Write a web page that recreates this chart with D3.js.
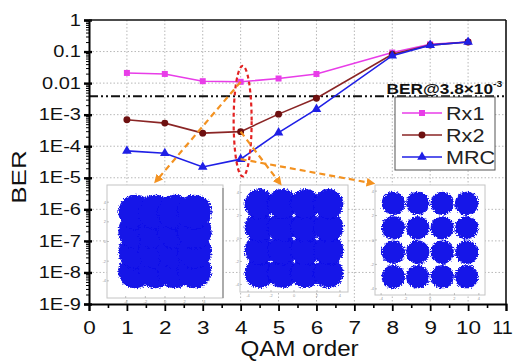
<!doctype html>
<html lang="en">
<head>
<meta charset="utf-8">
<title>BER vs QAM order</title>
<script src="https://d3js.org/d3.v7.min.js"></script>
<style>
  body { margin: 0; background: #fff; }
  svg text { font-family: 'Liberation Sans', Arial, sans-serif; }
  .grid line { stroke: #b8b8b8; stroke-dasharray: 1.5,2; }
</style>
</head>
<body>
<div id="chart"></div>
<script>
// values
const qamOrder = [1, 2, 3, 4, 5, 6, 8, 9, 10]
const berRx1 = [0.021, 0.0195, 0.0115, 0.011, 0.014, 0.0195, 0.093, 0.17, 0.2]
const berRx2 = [6.9e-4, 5.4e-4, 2.6e-4, 2.9e-4, 1.04e-3, 3.3e-3, 0.082, 0.16, 0.2]
const berMRC = [7.1e-5, 6.0e-5, 2.2e-5, 3.9e-5, 2.7e-4, 1.5e-3, 0.074, 0.16, 0.2]
const seriesNames = ['Rx1', 'Rx2', 'MRC']
const berThreshold = 3.8e-3

const xTickValues = [0, 1, 2, 3, 4, 5, 6, 7, 8, 9, 10, 11]
const yTickValues = [1e-9, 1e-8, 1e-7, 1e-6, 1e-5, 1e-4, 1e-3, 0.01, 0.1, 1]
const yTickLabels = ['1E-9', '1E-8', '1E-7', '1E-6', '1E-5', '1E-4', '1E-3', '0.01', '0.1', '1']

// constellation insets (16-QAM points, noise spread per inset)
const constellationLevels = [-3, -1, 1, 3]
const clusterSpread = [1.75, 1.3, 0.95]
const zoomOrder = 4

let width = 513
let height = 363
let margin = {top: 20, right: 7, bottom: 59, left: 89}

let colors = {Rx1: '#e83de8', Rx2: '#8a2525', MRC: '#1f1fe6'}
let markerFill = {Rx1: '#e83de8', Rx2: '#6e1010', MRC: '#1f1fe6'}
let orange = '#f39221'
let textStretch = 1.25

let svg = d3.select('#chart').append('svg')
  .attr('width', width)
  .attr('height', height)

let defs = svg.append('defs')
let fuzz = defs.append('filter').attr('id', 'fuzz')
  .attr('x', '-10%').attr('y', '-10%').attr('width', '120%').attr('height', '120%')
fuzz.append('feTurbulence').attr('type', 'fractalNoise').attr('baseFrequency', 0.7)
  .attr('numOctaves', 2).attr('seed', 3).attr('result', 'noise')
fuzz.append('feDisplacementMap').attr('in', 'SourceGraphic').attr('in2', 'noise')
  .attr('scale', 5).attr('xChannelSelector', 'R').attr('yChannelSelector', 'G')

defs.append('marker').attr('id', 'arrow')
  .attr('viewBox', '0 0 10 10').attr('refX', 5).attr('refY', 5)
  .attr('markerWidth', 4).attr('markerHeight', 4)
  .attr('orient', 'auto')
  .append('path').attr('d', 'M0,0 L10,5 L0,10 z').attr('fill', orange)

let x = d3.scaleLinear().domain([0, 11]).range([margin.left, width - margin.right])
let y = d3.scaleLog().domain([1e-9, 1]).range([height - margin.bottom, margin.top])

// grid
let grid = svg.append('g').attr('class', 'grid')
grid.selectAll('.gx').data(xTickValues.slice(1, -1)).enter().append('line')
  .attr('x1', d => x(d)).attr('x2', d => x(d))
  .attr('y1', y(1)).attr('y2', y(1e-9))
grid.selectAll('.gy').data(yTickValues.slice(1, -1)).enter().append('line')
  .attr('x1', x(0)).attr('x2', x(11))
  .attr('y1', d => y(d)).attr('y2', d => y(d))

// constellation insets
let insets = [
  {x: 107, y: 185, w: 116, h: 113, half: 5.9},
  {x: 240, y: 185, w: 108, h: 107, half: 4.7},
  {x: 375, y: 185, w: 110, h: 110, half: 4.5},
]
let points = []
constellationLevels.forEach(i => constellationLevels.forEach(q => points.push([i, q])))

insets.forEach((b, k) => {
  let g = svg.append('g')
  let px = (b.w / 2) / b.half
  let sx = d3.scaleLinear().domain([-b.half, b.half]).range([b.x, b.x + b.w])
  let sy = d3.scaleLinear().domain([-b.half * b.h / b.w, b.half * b.h / b.w]).range([b.y + b.h, b.y])
  g.append('rect').attr('x', b.x).attr('y', b.y).attr('width', b.w).attr('height', b.h)
    .attr('fill', '#fff').attr('stroke', '#c4c4c4').attr('stroke-width', 1)
  let inner = [-4, -2, 0, 2, 4]
  g.selectAll('.tx').data(inner).enter().append('line')
    .attr('x1', d => sx(d)).attr('x2', d => sx(d))
    .attr('y1', b.y + b.h).attr('y2', b.y + b.h - 2)
    .attr('stroke', '#999').attr('stroke-width', 0.6)
  g.selectAll('.ty').data(inner).enter().append('line')
    .attr('x1', b.x).attr('x2', b.x + 2)
    .attr('y1', d => sy(d)).attr('y2', d => sy(d))
    .attr('stroke', '#999').attr('stroke-width', 0.6)
  g.selectAll('.tl').data(inner).enter().append('text')
    .attr('x', d => sx(d)).attr('y', b.y + b.h + 5)
    .attr('text-anchor', 'middle').attr('font-size', 4).attr('fill', '#999')
    .text(d => d)
  g.selectAll('.tyl').data(inner).enter().append('text')
    .attr('x', b.x - 1).attr('y', d => sy(d) + 1.5)
    .attr('text-anchor', 'end').attr('font-size', 4).attr('fill', '#999')
    .text(d => d)
  let cloud = g.append('g').attr('filter', 'url(#fuzz)')
  // clusters that have merged into one block get a solid core
  if (clusterSpread[k] > Math.SQRT2) {
    let lo = d3.min(constellationLevels)
    let hi = d3.max(constellationLevels)
    cloud.append('rect')
      .attr('x', sx(lo)).attr('y', sy(hi))
      .attr('width', sx(hi) - sx(lo)).attr('height', sy(lo) - sy(hi))
      .attr('fill', '#1212e8')
  }
  cloud.selectAll('circle').data(points).enter().append('circle')
    .attr('cx', d => sx(d[0])).attr('cy', d => sy(d[1]))
    .attr('r', clusterSpread[k] * px)
    .attr('fill', '#1212e8')
})
svg.append('line')
  .attr('x1', insets[0].x + insets[0].w).attr('x2', insets[0].x + insets[0].w)
  .attr('y1', insets[0].y + 3).attr('y2', insets[0].y + insets[0].h)
  .attr('stroke', '#888').attr('stroke-width', 1.2)

// threshold line
svg.append('line')
  .attr('x1', x(0)).attr('x2', x(11))
  .attr('y1', y(berThreshold)).attr('y2', y(berThreshold))
  .attr('stroke', '#111').attr('stroke-width', 2)
  .attr('stroke-dasharray', '9,3,2,3,2,3')

let thrLabel = svg.append('text')
  .attr('transform', `translate(${x(7.85)},${y(berThreshold) - 2}) scale(1.15,1)`)
  .attr('font-size', 15).attr('font-weight', 'bold').attr('fill', '#111')
thrLabel.append('tspan').text('BER@3.8×10')
thrLabel.append('tspan').attr('font-size', 9).attr('dy', -7).text('-3')

// series
let series = [berRx1, berRx2, berMRC].map((vals, i) => ({
  name: seriesNames[i],
  values: qamOrder.map((q, j) => ({q: q, ber: vals[j]}))
}))

let line = d3.line().x(d => x(d.q)).y(d => y(d.ber))

let symbols = {Rx1: d3.symbolSquare, Rx2: d3.symbolCircle, MRC: d3.symbolTriangle}
let symbolSize = {Rx1: 36, Rx2: 38, MRC: 40}

series.forEach(s => {
  svg.append('path').datum(s.values)
    .attr('d', line)
    .attr('fill', 'none')
    .attr('stroke', colors[s.name])
    .attr('stroke-width', 1.6)
  svg.append('g').selectAll('path').data(s.values).enter().append('path')
    .attr('transform', d => `translate(${x(d.q)},${y(d.ber)})`)
    .attr('d', d3.symbol().type(symbols[s.name]).size(symbolSize[s.name]))
    .attr('fill', markerFill[s.name])
})

// dashed ellipse round QAM order 4
svg.append('ellipse')
  .attr('cx', x(zoomOrder) + 2)
  .attr('cy', (y(0.035) + y(1.1e-5)) / 2)
  .attr('rx', 9)
  .attr('ry', (y(1.1e-5) - y(0.035)) / 2)
  .attr('fill', 'none').attr('stroke', '#e32222')
  .attr('stroke-width', 2.2).attr('stroke-dasharray', '4,3')

// arrows from the QAM-4 points to the insets
let arrowEnds = [
  [insets[0].x + 50, insets[0].y - 5],
  [insets[1].x + 39, insets[1].y - 3],
  [insets[2].x - 4, insets[2].y - 2],
]
series.forEach((s, i) => {
  let p = s.values.find(d => d.q === zoomOrder)
  svg.append('line')
    .attr('x1', x(p.q)).attr('y1', y(p.ber))
    .attr('x2', arrowEnds[i][0]).attr('y2', arrowEnds[i][1])
    .attr('stroke', orange).attr('stroke-width', 2.2)
    .attr('stroke-dasharray', '6,4')
    .attr('marker-end', 'url(#arrow)')
})

// legend
let legend = svg.append('g').attr('transform', 'translate(395,97)')
legend.append('rect').attr('width', 100).attr('height', 73)
  .attr('fill', '#fff').attr('stroke', '#555').attr('stroke-width', 1)
seriesNames.forEach((name, i) => {
  let row = legend.append('g').attr('transform', `translate(0,${16 + i * 22})`)
  row.append('line').attr('x1', 7).attr('x2', 47)
    .attr('stroke', colors[name]).attr('stroke-width', 1.6)
  row.append('path').attr('transform', 'translate(27,0)')
    .attr('d', d3.symbol().type(symbols[name]).size(symbolSize[name]))
    .attr('fill', markerFill[name])
  row.append('text').attr('transform', 'translate(51,7) scale(1.2,1)')
    .attr('font-size', 18).attr('fill', '#222').text(name)
})

// axes
let yMinor = []
yTickValues.slice(0, -1).forEach(v => {
  for (let m = 2; m < 10; m++) yMinor.push(v * m)
})
svg.append('g')
  .attr('transform', `translate(${x(0)},0)`)
  .call(d3.axisLeft(y).tickValues(yMinor).tickSize(3).tickFormat(''))
  .call(g => g.select('.domain').remove())
  .selectAll('line').attr('stroke-width', 1)

let yAxis = svg.append('g')
  .attr('transform', `translate(${x(0)},0)`)
  .call(d3.axisLeft(y).tickValues(yTickValues).tickSize(5)
    .tickFormat((d, i) => yTickLabels[i]))
yAxis.select('.domain').attr('stroke-width', 2)
yAxis.selectAll('.tick line').attr('stroke-width', 2.4).attr('x2', -5).attr('x1', 3)
yAxis.selectAll('.tick text')
  .attr('x', 0)
  .attr('transform', `translate(-8,0) scale(${textStretch},1)`)
  .attr('font-size', 16).attr('fill', '#111')

let xMinor = xTickValues.slice(0, -1).map(v => v + 0.5)
svg.append('g')
  .attr('transform', `translate(0,${y(1e-9)})`)
  .call(d3.axisBottom(x).tickValues(xMinor).tickSize(4).tickFormat(''))
  .call(g => g.select('.domain').remove())
  .selectAll('line').attr('stroke-width', 1.6)

let xAxis = svg.append('g')
  .attr('transform', `translate(0,${y(1e-9)})`)
  .call(d3.axisBottom(x).tickValues(xTickValues).tickSize(7).tickFormat(d3.format('d')))
xAxis.select('.domain').attr('stroke-width', 2)
xAxis.selectAll('.tick line').attr('stroke-width', 1.8)
xAxis.selectAll('.tick text')
  .attr('y', 0).attr('dy', 0)
  .attr('transform', (d, i) => i === xTickValues.length - 1
    ? `translate(-4,30) scale(1.1,1)`
    : `translate(0,30) scale(${textStretch},1)`)
  .attr('font-size', 18).attr('fill', '#111')

// frame top and right
svg.append('line').attr('x1', x(0)).attr('x2', x(11)).attr('y1', y(1)).attr('y2', y(1))
  .attr('stroke', '#111').attr('stroke-width', 1.6)
svg.append('line').attr('x1', x(11)).attr('x2', x(11)).attr('y1', y(1)).attr('y2', y(1e-9))
  .attr('stroke', '#111').attr('stroke-width', 1.6)

// axis titles
svg.append('text')
  .attr('transform', `translate(${(x(0) + x(11)) / 2 + 2},356) scale(1.1,1)`)
  .attr('text-anchor', 'middle').attr('font-size', 22).attr('fill', '#111')
  .text('QAM order')
svg.append('text')
  .attr('transform', `translate(26,177) rotate(-90) scale(1.3,1)`)
  .attr('text-anchor', 'middle').attr('font-size', 20).attr('fill', '#111')
  .text('BER')
</script>
</body>
</html>
